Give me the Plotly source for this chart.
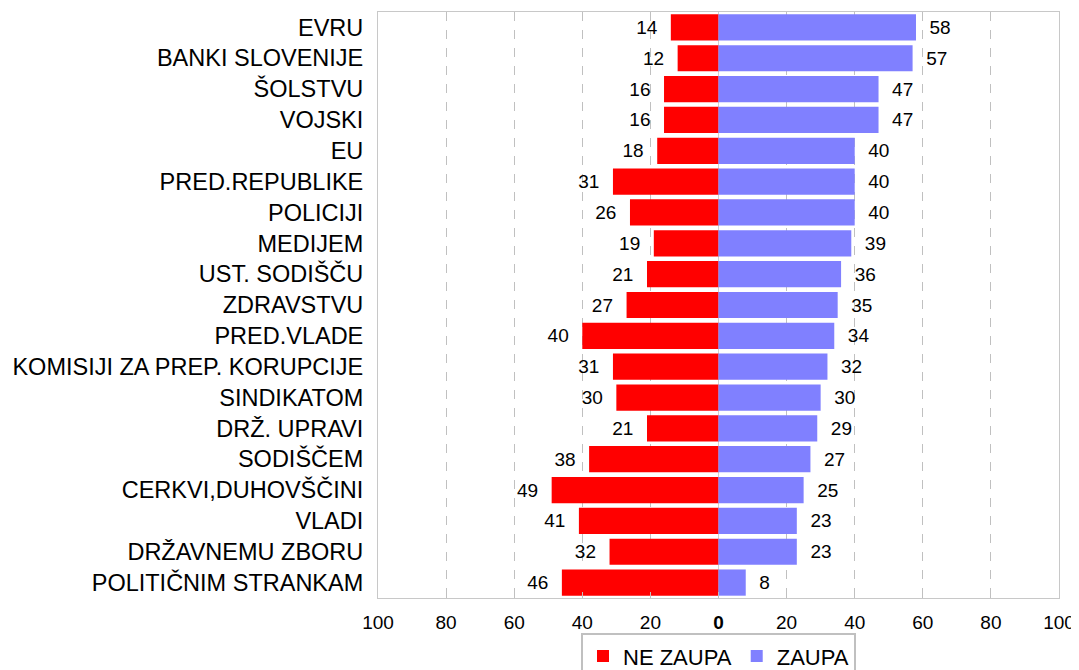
import plotly.graph_objects as go

categories = ["EVRU", "BANKI SLOVENIJE", "ŠOLSTVU", "VOJSKI", "EU", "PRED.REPUBLIKE",
              "POLICIJI", "MEDIJEM", "UST. SODIŠČU", "ZDRAVSTVU", "PRED.VLADE",
              "KOMISIJI ZA PREP. KORUPCIJE", "SINDIKATOM", "DRŽ. UPRAVI", "SODIŠČEM",
              "CERKVI,DUHOVŠČINI", "VLADI", "DRŽAVNEMU ZBORU", "POLITIČNIM STRANKAM"]
ne_zaupa = [14, 12, 16, 16, 18, 31, 26, 19, 21, 27, 40, 31, 30, 21, 38, 49, 41, 32, 46]
zaupa = [58, 57, 47, 47, 40, 40, 40, 39, 36, 35, 34, 32, 30, 29, 27, 25, 23, 23, 8]
tick_vals = [-100, -80, -60, -40, -20, 0, 20, 40, 60, 80, 100]
tick_text = ["100", "80", "60", "40", "20", "<b>0</b>", "20", "40", "60", "80", "100"]

font = "Liberation Sans, Arial, sans-serif"

fig = go.Figure()
fig.add_trace(go.Bar(
    y=categories, x=[-v for v in ne_zaupa], orientation="h", name="NE ZAUPA",
    marker=dict(color="#FF0000", line=dict(width=0)),
    text=[f"{v}\u00a0\u00a0" for v in ne_zaupa], textposition="outside",
    textfont=dict(size=19, color="black", family=font), cliponaxis=False,
))
fig.add_trace(go.Bar(
    y=categories, x=zaupa, orientation="h", name="ZAUPA",
    marker=dict(color="#8080FF", line=dict(width=0)),
    text=[f"\u00a0\u00a0{v}" for v in zaupa], textposition="outside",
    textfont=dict(size=19, color="black", family=font), cliponaxis=False,
))

fig.update_layout(
    width=1079, height=670,
    margin=dict(l=370, r=28, t=4, b=80, autoexpand=False),
    barmode="relative", bargap=0.15,
    plot_bgcolor="white", paper_bgcolor="white",
    font=dict(family=font, color="black", size=18),
    showlegend=True,
    legend=dict(orientation="h", x=0.5, xanchor="center", y=-0.06, yanchor="top",
                bordercolor="#c0c0c0", borderwidth=2, font=dict(size=22),
                itemwidth=30, tracegroupgap=0),
)
fig.update_xaxes(
    range=[-100, 100], tickvals=tick_vals, ticktext=tick_text,
    showgrid=True, gridcolor="#c0c0c0", griddash="dash", gridwidth=1,
    zeroline=True, zerolinecolor="#d0d0d0", zerolinewidth=1,
    showline=True, mirror=True, linecolor="#c8c8c8", linewidth=1,
    ticks="inside", ticklen=6, tickcolor="#c0c0c0", ticklabelstandoff=7,
    tickfont=dict(size=19), automargin=False,
    fixedrange=True,
)
fig.update_yaxes(
    autorange="reversed", showgrid=False,
    showline=True, mirror=True, linecolor="#c8c8c8", linewidth=1,
    ticks="", ticklabelstandoff=9, tickfont=dict(size=23.5), automargin=False,
)

fig.write_html("out.html")
